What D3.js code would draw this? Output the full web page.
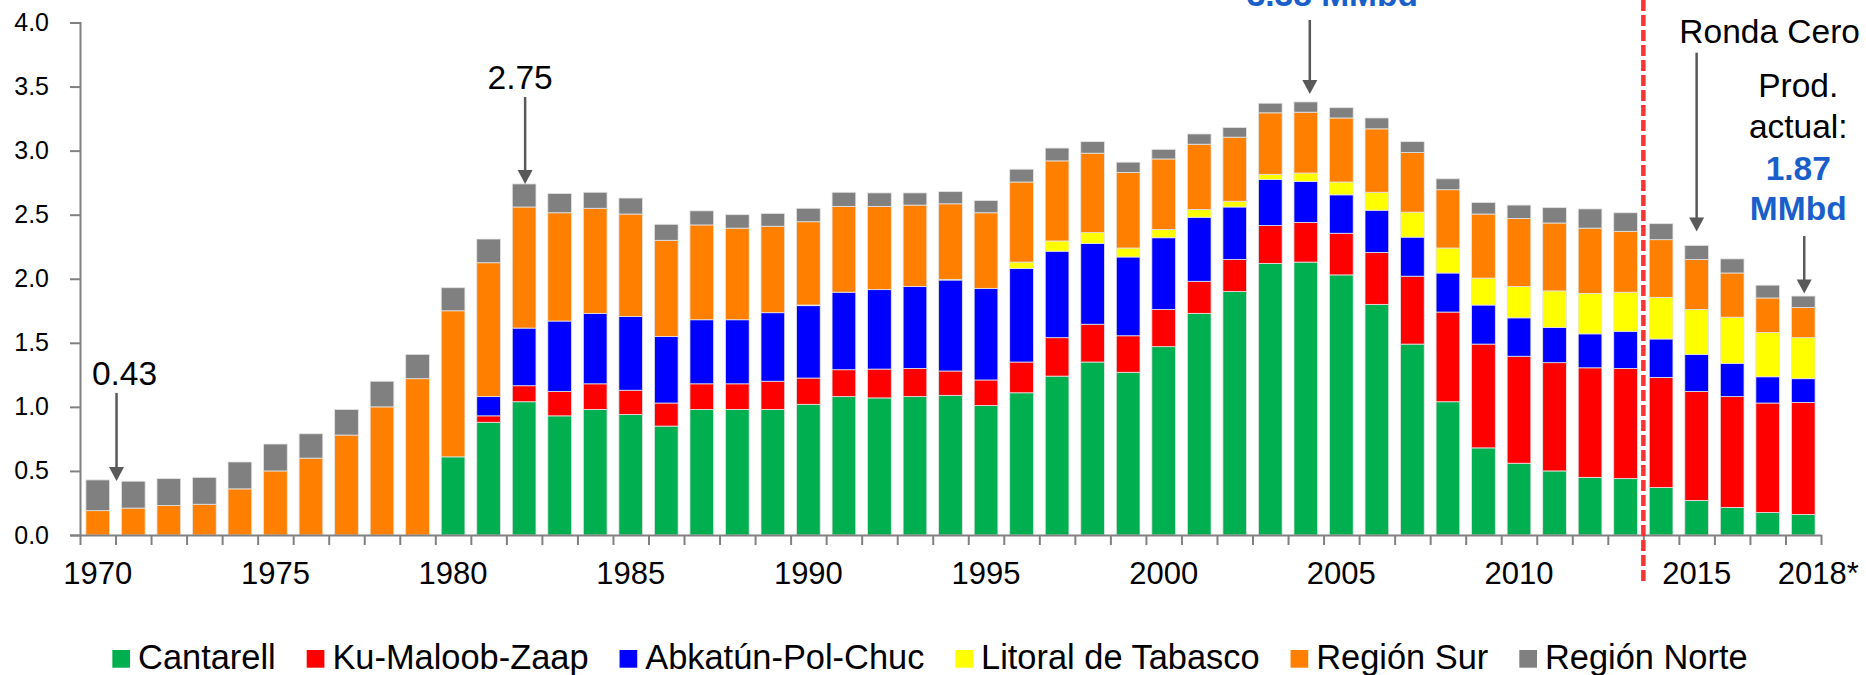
<!DOCTYPE html>
<html>
<head>
<meta charset="utf-8">
<script src="https://cdnjs.cloudflare.com/ajax/libs/d3/7.8.5/d3.min.js"></script>
<style>
  body { margin: 0; background: #fff; }
  svg { display: block; }
  text { font-family: Arial, "Liberation Sans", sans-serif; }
</style>
</head>
<body>
<script>

// categories
var years = [1970, 1971, 1972, 1973, 1974, 1975, 1976, 1977, 1978, 1979,
             1980, 1981, 1982, 1983, 1984, 1985, 1986, 1987, 1988, 1989,
             1990, 1991, 1992, 1993, 1994, 1995, 1996, 1997, 1998, 1999,
             2000, 2001, 2002, 2003, 2004, 2005, 2006, 2007, 2008, 2009,
             2010, 2011, 2012, 2013, 2014, 2015, 2016, 2017, 2018];
var labelYears = [1970, 1975, 1980, 1985, 1990, 1995, 2000, 2005, 2010, 2015, 2018];
var yTicks = [0, 0.5, 1, 1.5, 2, 2.5, 3, 3.5, 4];

// series (MMbd)
var cantarell = [0, 0, 0, 0, 0, 0, 0, 0, 0, 0,
                 0.61, 0.88, 1.04, 0.93, 0.98, 0.94, 0.85, 0.98, 0.98, 0.98,
                 1.02, 1.08, 1.07, 1.08, 1.09, 1.01, 1.11, 1.24, 1.35, 1.27,
                 1.47, 1.73, 1.90, 2.12, 2.13, 2.03, 1.80, 1.49, 1.04, 0.68,
                 0.56, 0.50, 0.45, 0.44, 0.37, 0.27, 0.215, 0.175, 0.16];
var kmz = [0, 0, 0, 0, 0, 0, 0, 0, 0, 0,
           0, 0.05, 0.125, 0.19, 0.20, 0.19, 0.18, 0.20, 0.20, 0.22,
           0.205, 0.21, 0.225, 0.22, 0.19, 0.20, 0.24, 0.30, 0.295, 0.285,
           0.29, 0.25, 0.25, 0.295, 0.31, 0.325, 0.405, 0.53, 0.70, 0.81,
           0.835, 0.845, 0.855, 0.86, 0.86, 0.85, 0.865, 0.855, 0.875];
var apc = [0, 0, 0, 0, 0, 0, 0, 0, 0, 0,
           0, 0.15, 0.45, 0.55, 0.55, 0.575, 0.52, 0.50, 0.50, 0.535,
           0.565, 0.605, 0.62, 0.64, 0.71, 0.715, 0.73, 0.675, 0.63, 0.615,
           0.56, 0.50, 0.41, 0.36, 0.32, 0.30, 0.33, 0.305, 0.305, 0.305,
           0.30, 0.275, 0.265, 0.29, 0.30, 0.29, 0.26, 0.205, 0.185];
var litoral = [0, 0, 0, 0, 0, 0, 0, 0, 0, 0,
               0, 0, 0, 0, 0, 0, 0, 0, 0, 0,
               0.005, 0, 0, 0, 0.005, 0, 0.05, 0.08, 0.085, 0.07,
               0.065, 0.06, 0.045, 0.04, 0.065, 0.10, 0.14, 0.195, 0.195, 0.21,
               0.245, 0.285, 0.315, 0.305, 0.325, 0.35, 0.36, 0.345, 0.32];
var sur = [0.19, 0.21, 0.23, 0.24, 0.36, 0.50, 0.60, 0.78, 1.00, 1.22,
           1.14, 1.045, 0.945, 0.845, 0.82, 0.80, 0.75, 0.74, 0.715, 0.675,
           0.65, 0.67, 0.65, 0.635, 0.59, 0.59, 0.625, 0.625, 0.62, 0.59,
           0.55, 0.51, 0.50, 0.48, 0.475, 0.50, 0.495, 0.465, 0.455, 0.50,
           0.53, 0.53, 0.51, 0.475, 0.45, 0.39, 0.345, 0.27, 0.235];
var norte = [0.24, 0.21, 0.21, 0.21, 0.21, 0.21, 0.19, 0.20, 0.20, 0.19,
             0.18, 0.185, 0.18, 0.15, 0.125, 0.125, 0.125, 0.11, 0.105, 0.10,
             0.105, 0.11, 0.105, 0.095, 0.095, 0.095, 0.10, 0.10, 0.09, 0.08,
             0.075, 0.08, 0.075, 0.075, 0.08, 0.08, 0.085, 0.085, 0.085, 0.09,
             0.105, 0.12, 0.15, 0.145, 0.125, 0.11, 0.11, 0.10, 0.09];

var seriesNames = ["Cantarell", "Ku-Maloob-Zaap", "Abkatún-Pol-Chuc", "Litoral de Tabasco", "Región Sur", "Región Norte"];
var seriesValues = [cantarell, kmz, apc, litoral, sur, norte];
var colors = ["#00b050", "#ff0000", "#0000ff", "#ffff00", "#ff8000", "#808080"];

var width = 1866, height = 675;
var plotLeft = 80, plotRight = 1821, plotTop = 22.5, plotBottom = 535;

var svg = d3.select("body").append("svg")
    .attr("width", width)
    .attr("height", height);

// table for the stack
var table = years.map(function(yr, i){
    var row = { year: yr };
    seriesNames.forEach(function(s, j){ row[s] = seriesValues[j][i]; });
    return row;
});
var totals = years.map(function(yr, i){
    return d3.sum(seriesValues, function(v){ return v[i]; });
});

var x = d3.scaleBand()
    .domain(years)
    .range([plotLeft, plotRight])
    .paddingInner(0.333)
    .paddingOuter(0.1665);

// boundaries between years, for the tick marks
var xEdge = d3.scaleLinear()
    .domain([years[0], years[years.length - 1] + 1])
    .range([plotLeft, plotRight]);

var y = d3.scaleLinear()
    .domain([0, 4])
    .range([plotBottom, plotTop]);

var stack = d3.stack().keys(seriesNames);
var layers = stack(table);

var color = d3.scaleOrdinal().domain(seriesNames).range(colors);

// bars
svg.append("g")
  .selectAll("g")
  .data(layers)
  .enter()
  .append("g")
    .attr("fill", function(d){ return color(d.key); })
  .selectAll("rect")
  .data(function(d){ return d.filter(function(p){ return p[1] - p[0] > 0; }); })
  .enter()
  .append("rect")
    .attr("x", function(d){ return x(d.data.year); })
    .attr("y", function(d){ return y(d[1]); })
    .attr("width", x.bandwidth())
    .attr("height", function(d){ return y(d[0]) - y(d[1]); })
    .attr("stroke", "#e4e4e4")
    .attr("stroke-width", 0.8);

// y axis
var yAxis = svg.append("g")
    .attr("transform", "translate(" + plotLeft + ",0)")
    .call(d3.axisLeft(y)
        .tickValues(yTicks)
        .tickFormat(d3.format(".1f"))
        .tickSize(10)
        .tickPadding(21));
yAxis.selectAll("path, line").attr("stroke", "#808080").attr("stroke-width", 2);
yAxis.selectAll("text")
    .attr("font-family", "'DejaVu Sans', Verdana, sans-serif")
    .attr("font-size", "25px")
    .attr("fill", "#000");

// x axis: tick marks on year boundaries
var xTicks = svg.append("g")
    .attr("transform", "translate(0," + plotBottom + ")")
    .call(d3.axisBottom(xEdge)
        .tickValues(d3.range(years[0], years[years.length - 1] + 2))
        .tickFormat("")
        .tickSizeInner(10)
        .tickSizeOuter(0));
xTicks.selectAll("path, line").attr("stroke", "#808080").attr("stroke-width", 2);

// x axis: labels
var xLabels = svg.append("g")
    .attr("transform", "translate(0," + plotBottom + ")")
    .call(d3.axisBottom(x)
        .tickValues(labelYears)
        .tickSize(0)
        .tickPadding(27)
        .tickFormat(function(d){ return d === 2018 ? "2018*" : d; }));
xLabels.select(".domain").remove();
xLabels.selectAll("text")
    .attr("font-family", "Arial, 'Liberation Sans', sans-serif")
    .attr("font-size", "31px")
    .attr("fill", "#000")
    .attr("dx", function(d){ return d === 2018 ? 15 : 0; });

// red dashed separator between 2013 and 2014
svg.append("line")
    .attr("x1", xEdge(2014))
    .attr("x2", xEdge(2014))
    .attr("y1", 0)
    .attr("y2", 584)
    .attr("stroke", "#ff3333")
    .attr("stroke-width", 4.5)
    .attr("stroke-dasharray", "11,4");

// annotations
var arrowColor = "#595959";
function arrow(ax, y1, tip){
    svg.append("line")
        .attr("x1", ax).attr("x2", ax)
        .attr("y1", y1).attr("y2", tip - 12)
        .attr("stroke", arrowColor)
        .attr("stroke-width", 2.5);
    svg.append("path")
        .attr("d", "M" + (ax - 7.5) + "," + (tip - 14) + "L" + (ax + 7.5) + "," + (tip - 14) + "L" + ax + "," + tip + "Z")
        .attr("fill", arrowColor);
}
function label(tx, ty, txt, bold){
    svg.append("text")
        .attr("x", tx).attr("y", ty)
        .attr("text-anchor", "middle")
        .attr("font-size", "33.5px")
        .attr("font-weight", bold ? "bold" : "normal")
        .attr("fill", bold ? "#1a5fc9" : "#000")
        .text(txt);
}
function idx(yr){ return years.indexOf(yr); }
function mid(yr){ return x(yr) + x.bandwidth() / 2; }

// 1970
var a1x = xEdge(1971) + 1, a1tip = y(totals[idx(1970)]) + 1;
arrow(a1x, a1tip - 88, a1tip);
label(a1x + 8, a1tip - 95.5, "0.43");

// 1982
var a2x = mid(1982) + 1, a2tip = y(totals[idx(1982)]);
arrow(a2x, a2tip - 87, a2tip);
label(a2x - 5, a2tip - 94.5, "2.75");

// 2004 peak (label runs off the top edge, as in the original)
var a3x = mid(2004) + 4, a3tip = y(totals[idx(2004)]) - 8;
arrow(a3x, 20, a3tip);
label(a3x + 22.5, 6, "3.38 MMbd", true);

// 2015 Ronda Cero
var a4x = mid(2015), a4tip = y(totals[idx(2015)]) - 14;
arrow(a4x, 52.7, a4tip);
label(a4x + 73, 42.7, "Ronda Cero");

// 2018 current
var a5x = mid(2018) + 1, a5tip = y(totals[idx(2018)]) - 2.5;
arrow(a5x, 236, a5tip);
label(a5x - 6, 96.7, "Prod.");
label(a5x - 6, 138.3, "actual:");
label(a5x - 6, 180, "1.87", true);
label(a5x - 6, 220, "MMbd", true);

// legend
var legend = svg.append("g");
var items = legend.selectAll("g")
    .data(seriesNames)
    .enter()
    .append("g");
items.append("rect")
    .attr("width", 17.7)
    .attr("height", 17.7)
    .attr("y", 650)
    .attr("fill", function(d){ return color(d); });
items.append("text")
    .attr("x", 25.7)
    .attr("y", 669)
    .attr("font-size", "34.4px")
    .attr("fill", "#000")
    .text(function(d){ return d; });

var pos = 0, offsets = [];
items.each(function(){
    offsets.push(pos);
    var w = d3.select(this).select("text").node().getComputedTextLength();
    pos += 25.7 + w + 31;
});
var totalW = pos - 31;
var startX = 930 - totalW / 2;
items.attr("transform", function(d, i){ return "translate(" + (startX + offsets[i]) + ",0)"; });

</script>
</body>
</html>
